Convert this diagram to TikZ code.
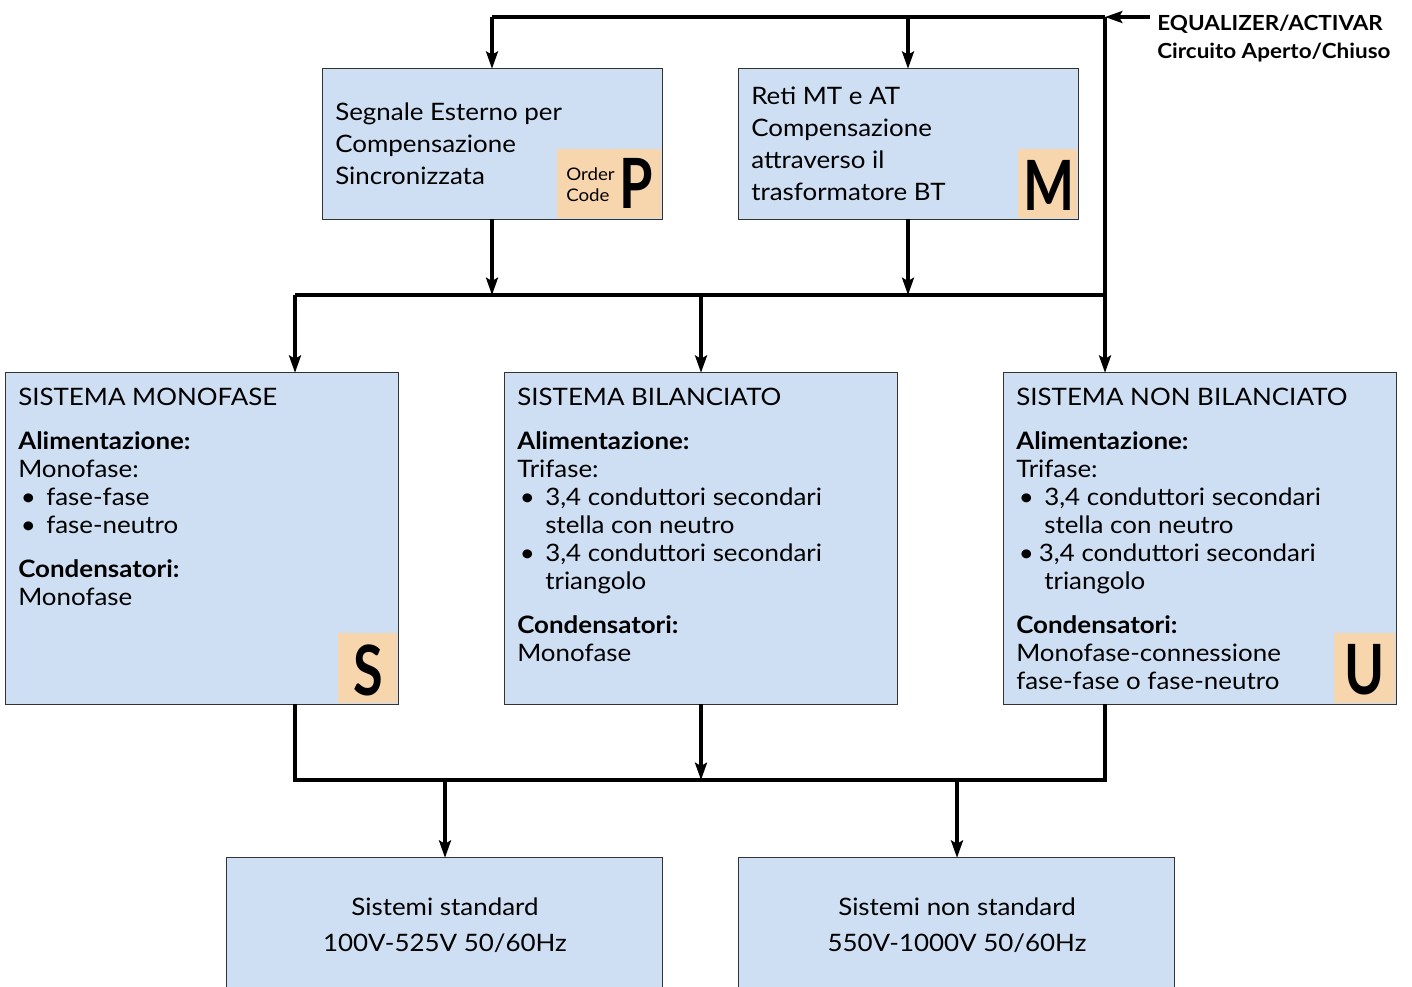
\documentclass[tikz,border=0pt]{standalone}
\usepackage{fontspec}
\setmainfont{Lato}[FakeStretch=1.08]
\newfontfamily\badgefont{Lato}[FakeStretch=0.78]
\usetikzlibrary{arrows.meta,fit}
\definecolor{boxblue}{HTML}{CFDFF3}
\definecolor{badgecol}{HTML}{F7D6AE}
\definecolor{edgecol}{HTML}{333333}
\newcommand\bul{\makebox[21pt][l]{\hspace{2pt}\textbullet}}
\newcommand\bulb{\makebox[17pt][l]{\hspace{2pt}\textbullet}}
\begin{document}
\begin{tikzpicture}[x=0.75pt,y=-0.75pt,
  boxfill/.style={fill=boxblue, draw=none, inner sep=0pt},
  boxline/.style={draw=edgecol, line width=1.1pt},
  badge/.style={fill=badgecol, draw=none, inner sep=0pt},
  wire/.style={line width=2.3pt, black},
  arr/.style={wire, -{Stealth[length=13pt,width=9pt,inset=2.5pt]}},
  txt/.style={inner sep=0pt, align=left, anchor=north west, font=\fontsize{18}{21}\selectfont},
  big/.style={inner sep=0pt, font=\fontsize{52}{52}\badgefont\bfseries}]
\useasboundingbox (0,0) rectangle (1412,986);
\clip (0,0) rectangle (1412,986);

% boxes
\node[boxfill, fit={(323,69)(662,219)}] (P) {};
\node[badge, fit={(557,149)(661,218)}] (Pb) {};
\draw[boxline] (P.north west) rectangle (P.south east);
\node[boxfill, fit={(739,69)(1078,219)}] (M) {};
\node[badge, fit={(1018,149)(1077,218)}] (Mb) {};
\draw[boxline] (M.north west) rectangle (M.south east);

\node[boxfill, fit={(6,373)(398,704)}] (S) {};
\node[badge, fit={(338,633)(397,703)}] (Sb) {};
\draw[boxline] (S.north west) rectangle (S.south east);
\node[boxfill, fit={(505,373)(897,704)}] (B) {};
\draw[boxline] (B.north west) rectangle (B.south east);
\node[boxfill, fit={(1004,373)(1396,704)}] (U) {};
\node[badge, fit={(1334,633)(1395,703)}] (Ub) {};
\draw[boxline] (U.north west) rectangle (U.south east);

\node[boxfill, fit={(227,858)(662,1000)}] (L) {};
\draw[boxline] (L.north west) rectangle (L.south east);
\node[boxfill, fit={(739,858)(1174,1000)}] (R) {};
\draw[boxline] (R.north west) rectangle (R.south east);

% badge letters
\node[big] (Pl) at (636,183) {P};
\node[inner sep=0pt, align=left, anchor=west, font=\fontsize{13}{16}\selectfont] (Po) at (566,185) {Order\\Code};
\node[big] (Ml) at (1049,185) {M};
\node[big] (Sl) at (368,670) {S};
\node[big] (Ul) at (1365,670) {U};

% texts
\node[txt, font=\fontsize{18}{24}\selectfont] (tP) at (335,97.6) {\strut Segnale Esterno per\\Compensazione\\Sincronizzata};
\node[txt, font=\fontsize{18}{24}\selectfont] (tM) at (751,81.6) {\strut Reti MT e AT\\Compensazione\\attraverso il\\trasformatore BT};

\node[txt] (tS) at (18,385.4) {\strut SISTEMA MONOFASE\\[12pt]
\textbf{Alimentazione:}\\
Monofase:\\
\bul fase-fase\\
\bul fase-neutro\\[12pt]
\textbf{Condensatori:}\\
Monofase};

\node[txt] (tB) at (517,385.4) {\strut SISTEMA BILANCIATO\\[12pt]
\textbf{Alimentazione:}\\
Trifase:\\
\bul 3,4 conduttori secondari\\
\hspace*{21pt}stella con neutro\\
\bul 3,4 conduttori secondari\\
\hspace*{21pt}triangolo\\[12pt]
\textbf{Condensatori:}\\
Monofase};

\node[txt] (tU) at (1016,385.4) {\strut SISTEMA NON BILANCIATO\\[12pt]
\textbf{Alimentazione:}\\
Trifase:\\
\bul 3,4 conduttori secondari\\
\hspace*{21pt}stella con neutro\\
\bulb 3,4 conduttori secondari\\
\hspace*{21pt}triangolo\\[12pt]
\textbf{Condensatori:}\\
Monofase-connessione\\
fase-fase o fase-neutro};

\node[txt, align=center, anchor=north, font=\fontsize{18}{27}\selectfont] (tL) at (445,889.8) {\strut Sistemi standard\\100V-525V 50/60Hz};
\node[txt, align=center, anchor=north, font=\fontsize{18}{27}\selectfont] (tR) at (957,889.8) {\strut Sistemi non standard\\550V-1000V 50/60Hz};

\node[txt, font=\fontsize{15.6}{21}\selectfont\bfseries] (lab) at (1157,10.4) {\strut EQUALIZER/ACTIVAR\\Circuito Aperto/Chiuso};

% junction coordinates
\coordinate (in) at (1150,17);
\coordinate (tr) at (1105,17);
\coordinate (tl) at (492,17);
\coordinate (tm) at (908,17);
\coordinate (ml) at (295,295);
\coordinate (mr) at (1105,295);
\coordinate (mc) at (701,295);
\coordinate (bl) at (295,780);
\coordinate (br) at (1105,780);
\coordinate (bc) at (701,780);
\coordinate (bL) at (445,780);
\coordinate (bR) at (957,780);

% connectors
\draw[arr] (in) -- (tr);
\draw[wire] (tl) -- (tr);
\draw[arr] (tl) -- (tl |- P.north);
\draw[arr] (tm) -- (tm |- M.north);
\draw[arr] (tr) -- (tr |- U.north);
\draw[arr] (tl |- P.south) -- (tl |- ml);
\draw[arr] (tm |- M.south) -- (tm |- ml);
\draw[wire] (ml) -- (mr);
\draw[arr] (ml) -- (ml |- S.north);
\draw[arr] (mc) -- (mc |- B.north);

\draw[wire] (bl |- S.south) -- (bl) -- (br) -- (br |- U.south);
\draw[arr] (bc |- B.south) -- (bc);
\draw[arr] (bL) -- (bL |- L.north);
\draw[arr] (bR) -- (bR |- R.north);
\end{tikzpicture}
\end{document}
